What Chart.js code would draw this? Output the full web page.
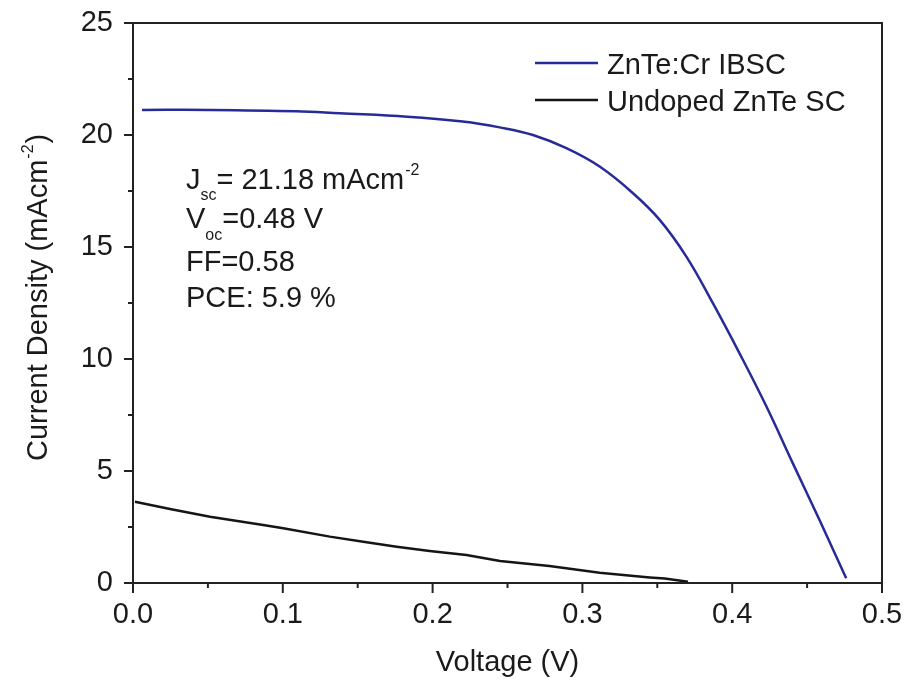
<!DOCTYPE html>
<html>
<head>
<meta charset="utf-8">
<script src="https://cdn.jsdelivr.net/npm/chart.js@4.4.1/dist/chart.umd.min.js"></script>
<style>
  html, body { margin: 0; padding: 0; background: #fff; }
  #wrap { width: 912px; height: 680px; }
</style>
</head>
<body>
<div id="wrap"><canvas id="myChart" width="912" height="680"></canvas></div>
<script>
// curva J-V della cella drogata (ZnTe:Cr)
var tensione_cr = [0.006, 0.05, 0.109, 0.138, 0.183, 0.220, 0.2448, 0.267, 0.2893, 0.3115, 0.3338, 0.3516, 0.3694, 0.3871, 0.4049, 0.4227, 0.4405, 0.4583, 0.4761];
var corrente_cr = [21.12, 21.12, 21.06, 20.97, 20.82, 20.6, 20.34, 20.0, 19.41, 18.59, 17.40, 16.21, 14.57, 12.49, 10.25, 7.9, 5.34, 2.81, 0.21];

// curva J-V della cella non drogata
var tensione_zn = [0.0013, 0.0247, 0.0514, 0.0869, 0.1003, 0.1314, 0.1537, 0.176, 0.198, 0.2226, 0.245, 0.278, 0.3115, 0.345, 0.355, 0.3705];
var corrente_zn = [3.63, 3.30, 2.96, 2.59, 2.44, 2.07, 1.84, 1.62, 1.43, 1.25, 0.98, 0.76, 0.46, 0.25, 0.20, 0.06];

var etichette = ['ZnTe:Cr IBSC', 'Undoped ZnTe SC'];
var colori = ['#272b97', '#151515'];

// parametri della cella riportati nel grafico
var parametri = ['= 21.18 mAcm', '=0.48 V', 'FF=0.58', 'PCE: 5.9 %'];

var tick_x = [0, 0.1, 0.2, 0.3, 0.4, 0.5];
var tick_y = [0, 5, 10, 15, 20, 25];

var FONT = '"Liberation Sans", Arial, sans-serif';
var DIM = 29;
var DIM_PICCOLA = 16;

function punti(xs, ys) {
    var out = [];
    for (var i = 0; i < xs.length; i++) {
        out.push({ x: xs[i], y: ys[i] });
    }
    return out;
}

// disegna cornice, tacche, legenda e testi
var decorazioni = {
    id: 'decorazioni',
    afterDraw: function (chart) {
        var ctx = chart.ctx;
        var a = chart.chartArea;
        var sx = chart.scales.x;
        var sy = chart.scales.y;
        ctx.save();
        ctx.strokeStyle = '#222';
        ctx.lineWidth = 2;
        ctx.strokeRect(a.left, a.top, a.right - a.left, a.bottom - a.top);

        // tacche asse x (maggiori ogni 0.1, minori ogni 0.05)
        for (var i = 0; i <= 10; i++) {
            var px = sx.getPixelForValue(i * 0.05);
            var len = (i % 2 === 0) ? 10 : 5;
            ctx.beginPath();
            ctx.moveTo(px, a.bottom);
            ctx.lineTo(px, a.bottom + len);
            ctx.stroke();
        }
        // tacche asse y (maggiori ogni 5, minori ogni 2.5)
        for (var j = 0; j <= 10; j++) {
            var py = sy.getPixelForValue(j * 2.5);
            var l2 = (j % 2 === 0) ? 9 : 5;
            ctx.beginPath();
            ctx.moveTo(a.left, py);
            ctx.lineTo(a.left - l2, py);
            ctx.stroke();
        }

        // legenda
        ctx.fillStyle = '#1a1a1a';
        ctx.textBaseline = 'alphabetic';
        ctx.textAlign = 'left';
        ctx.font = DIM + 'px ' + FONT;
        var righe = [63, 100];
        for (var k = 0; k < etichette.length; k++) {
            ctx.strokeStyle = colori[k];
            ctx.lineWidth = 2.5;
            ctx.beginPath();
            ctx.moveTo(535, righe[k]);
            ctx.lineTo(598, righe[k]);
            ctx.stroke();
            ctx.fillText(etichette[k], 607, righe[k] + 11);
        }

        // testo dei parametri
        var x0 = 186;
        ctx.font = DIM + 'px ' + FONT;
        ctx.fillText('J', x0, 189);
        var w = x0 + ctx.measureText('J').width;
        ctx.font = DIM_PICCOLA + 'px ' + FONT;
        ctx.fillText('sc', w, 200);
        w += ctx.measureText('sc').width;
        ctx.font = DIM + 'px ' + FONT;
        ctx.fillText(parametri[0], w, 189);
        w += ctx.measureText(parametri[0]).width;
        ctx.font = DIM_PICCOLA + 'px ' + FONT;
        ctx.fillText('-2', w + 1, 175);

        ctx.font = DIM + 'px ' + FONT;
        ctx.fillText('V', x0, 228);
        w = x0 + ctx.measureText('V').width;
        ctx.font = DIM_PICCOLA + 'px ' + FONT;
        ctx.fillText('oc', w, 240);
        w += ctx.measureText('oc').width;
        ctx.font = DIM + 'px ' + FONT;
        ctx.fillText(parametri[1], w, 228);
        ctx.fillText(parametri[2], x0, 271);
        ctx.fillText(parametri[3], x0, 307);

        // titolo asse y con apice
        ctx.translate(47, 461);
        ctx.rotate(-Math.PI / 2);
        ctx.font = DIM + 'px ' + FONT;
        var t1 = 'Current Density (mAcm';
        ctx.fillText(t1, 0, 0);
        var wt = ctx.measureText(t1).width;
        ctx.font = DIM_PICCOLA + 'px ' + FONT;
        ctx.fillText('-2', wt + 1, -14);
        var w2 = ctx.measureText('-2').width;
        ctx.font = DIM + 'px ' + FONT;
        ctx.fillText(')', wt + w2 + 2, 0);
        ctx.restore();
    }
};

var ctx = document.getElementById('myChart').getContext('2d');

var myChart = new Chart(ctx, {
    type: 'line',
    data: {
        datasets: [{
            label: etichette[0],
            data: punti(tensione_cr, corrente_cr),
            borderColor: colori[0],
            borderWidth: 2.5,
            pointRadius: 0,
            tension: 0.4,
            fill: false
        }, {
            label: etichette[1],
            data: punti(tensione_zn, corrente_zn),
            borderColor: colori[1],
            borderWidth: 2.5,
            pointRadius: 0,
            tension: 0,
            fill: false
        }]
    },
    options: {
        responsive: false,
        animation: false,
        layout: { padding: { top: 23, right: 30, left: 0, bottom: 0 } },
        plugins: {
            legend: { display: false },
            tooltip: { enabled: false }
        },
        scales: {
            x: {
                type: 'linear',
                min: 0,
                max: 0.5,
                grid: { display: false, drawTicks: false },
                border: { display: false },
                afterBuildTicks: function (scale) {
                    scale.ticks = tick_x.map(function (v) { return { value: v }; });
                },
                ticks: {
                    color: '#1a1a1a',
                    font: { family: FONT, size: DIM },
                    padding: 15,
                    maxRotation: 0,
                    callback: function (v) { return v.toFixed(1); }
                },
                title: {
                    display: true,
                    text: 'Voltage (V)',
                    color: '#1a1a1a',
                    font: { family: FONT, size: DIM },
                    padding: { top: 8, bottom: 0 }
                },
                afterFit: function (scale) {
                    scale.height = 97;
                    scale.paddingLeft = 0;
                    scale.paddingRight = 0;
                }
            },
            y: {
                min: 0,
                max: 25,
                grid: { display: false, drawTicks: false },
                border: { display: false },
                afterBuildTicks: function (scale) {
                    scale.ticks = tick_y.map(function (v) { return { value: v }; });
                },
                ticks: {
                    color: '#1a1a1a',
                    font: { family: FONT, size: DIM },
                    padding: 20
                },
                afterFit: function (scale) {
                    scale.width = 133;
                    scale.paddingTop = 0;
                    scale.paddingBottom = 0;
                }
            }
        }
    },
    plugins: [decorazioni]
});
</script>
</body>
</html>
